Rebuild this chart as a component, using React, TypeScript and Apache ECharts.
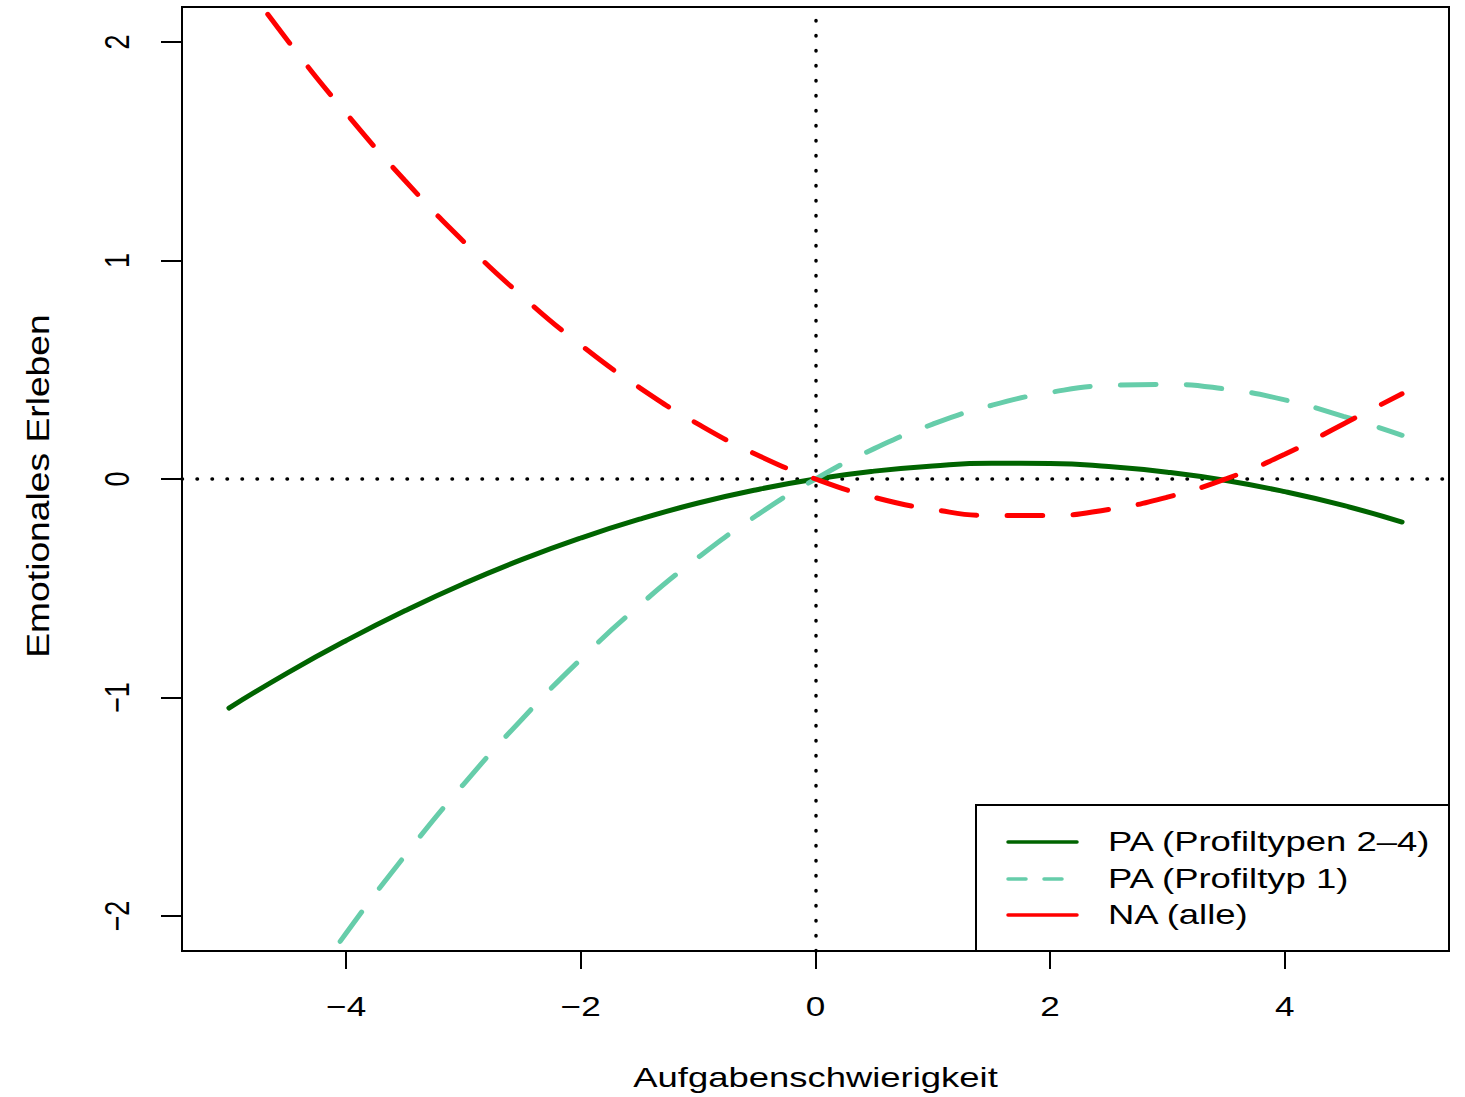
import React, { useEffect, useRef } from "react";
import * as echarts from "echarts";

const xValues = [-5, -4.5, -4, -3.5, -3, -2.5, -2, -1.5, -1, -0.5, 0, 0.5, 1, 1.5, 2, 2.5, 3, 3.5, 4, 4.5, 5];
const paProfil24 = [-1.048, -0.887, -0.739, -0.603, -0.479, -0.368, -0.27, -0.184, -0.11, -0.049, 0, 0.036, 0.06, 0.072, 0.071, 0.057, 0.031, -0.007, -0.058, -0.121, -0.197];
const paProfil1 = [-2.865, -2.458, -2.078, -1.724, -1.397, -1.098, -0.824, -0.578, -0.359, -0.166, 0, 0.139, 0.251, 0.337, 0.396, 0.428, 0.433, 0.411, 0.362, 0.287, 0.2];
const naAlle = [2.37, 2.007, 1.673, 1.366, 1.087, 0.836, 0.613, 0.418, 0.251, 0.111, 0, -0.084, -0.139, -0.167, -0.167, -0.139, -0.083, 0.001, 0.113, 0.252, 0.39];

const xTicks = [-4, -2, 0, 2, 4];
const yTicks = [-2, -1, 0, 1, 2];

const xTitle = "Aufgabenschwierigkeit";
const yTitle = "Emotionales Erleben";
const seriesNames = ["PA (Profiltypen 2\u20134)", "PA (Profiltyp 1)", "NA (alle)"];
const seriesColors = ["#006400", "#66CDAA", "#FF0000"];

const FONT = "'Liberation Sans', Arial, Helvetica, sans-serif";

const fmt = (v: number) => String(v).replace("-", "\u2212");

export default function App() {
  const ref = useRef<HTMLDivElement>(null);

  useEffect(() => {
    if (!ref.current) return;
    const chart = echarts.init(ref.current, undefined, { renderer: "svg" });
    const zip = (ys: number[]) => xValues.map((x, i) => [x, ys[i]]);

    chart.setOption({
      animation: false,
      backgroundColor: "#fff",
      grid: {
        left: 182,
        right: 16,
        top: 7,
        bottom: 146,
        show: true,
        borderColor: "#000",
        borderWidth: 2,
        backgroundColor: "transparent",
      },
      xAxis: {
        type: "value",
        min: -5.4,
        max: 5.4,
        axisLine: { show: false, onZero: false },
        splitLine: { show: false },
        axisTick: {
          show: true,
          length: 18,
          lineStyle: { color: "#000", width: 2 },
          customValues: xTicks,
        },
        axisLabel: { show: false },
      },
      yAxis: {
        type: "value",
        min: -2.16,
        max: 2.16,
        axisLine: { show: false, onZero: false },
        splitLine: { show: false },
        axisTick: {
          show: true,
          length: 21,
          lineStyle: { color: "#000", width: 2 },
          customValues: yTicks,
        },
        axisLabel: { show: false },
      },
      series: [
        {
          type: "line",
          name: seriesNames[0],
          data: zip(paProfil24),
          smooth: true,
          showSymbol: false,
          symbol: "none",
          lineStyle: { color: seriesColors[0], width: 5, cap: "round" },
          z: 3,
          markLine: {
            silent: true,
            symbol: "none",
            label: { show: false },
            lineStyle: { color: "#000", width: 3.5, type: [0.5, 14.5], cap: "round" },
            data: [{ xAxis: 0 }, { yAxis: 0 }],
            z: 2,
          },
        },
        {
          type: "line",
          name: seriesNames[1],
          data: zip(paProfil1),
          smooth: true,
          showSymbol: false,
          symbol: "none",
          lineStyle: { color: seriesColors[1], width: 5, type: [36, 30], cap: "round" },
          z: 4,
        },
        {
          type: "line",
          name: seriesNames[2],
          data: zip(naAlle),
          smooth: true,
          showSymbol: false,
          symbol: "none",
          lineStyle: { color: seriesColors[2], width: 5, type: [36, 30], cap: "round" },
          z: 5,
        },
      ],
    });

    const g: any[] = [];
    const textStyle = (text: string, size: number) => ({
      text,
      font: `${size}px ${FONT}`,
      fill: "#000",
      align: "center",
      verticalAlign: "middle",
    });

    // x tick labels
    xTicks.forEach((v) => {
      const p = chart.convertToPixel({ gridIndex: 0 }, [v, 0]) as number[];
      g.push({
        type: "text",
        x: p[0],
        y: 1007,
        scaleX: 1.3,
        style: textStyle(fmt(v), 27),
      });
    });
    // y tick labels (rotated)
    yTicks.forEach((v) => {
      const p = chart.convertToPixel({ gridIndex: 0 }, [0, v]) as number[];
      g.push({
        type: "text",
        x: 117,
        y: p[1],
        rotation: Math.PI / 2,
        scaleY: 1.3,
        style: textStyle(fmt(v), 27),
      });
    });
    // axis titles
    const cx = (chart.convertToPixel({ gridIndex: 0 }, [0, 0]) as number[])[0];
    g.push({
      type: "text",
      x: cx,
      y: 1078,
      scaleX: 1.35,
      style: textStyle(xTitle, 27),
    });
    g.push({
      type: "text",
      x: 38,
      y: 486,
      rotation: Math.PI / 2,
      scaleX: 1.33,
      scaleY: 1.12,
      style: textStyle(yTitle, 28),
    });

    // legend
    const legendRows = [842, 879, 915];
    g.push({
      type: "rect",
      shape: { x: 976, y: 805, width: 473, height: 146 },
      style: { fill: "#fff", stroke: "#000", lineWidth: 2 },
      z: 10,
    });
    seriesNames.forEach((name, i) => {
      g.push({
        type: "line",
        shape: { x1: 1008, y1: legendRows[i], x2: 1077, y2: legendRows[i] },
        style: {
          stroke: seriesColors[i],
          lineWidth: 3.5,
          lineDash: i === 1 ? [18, 18] : null,
          lineCap: "round",
        },
        z: 11,
      });
      g.push({
        type: "text",
        x: 1108,
        y: legendRows[i],
        scaleX: 1.35,
        style: {
          text: name,
          font: `27px ${FONT}`,
          fill: "#000",
          verticalAlign: "middle",
          align: "left",
        },
        z: 11,
      });
    });

    chart.setOption({ graphic: g });

    return () => chart.dispose();
  }, []);

  return (
    <div
      ref={ref}
      style={{ position: "absolute", left: 0, top: 0, width: 1465, height: 1097 }}
    />
  );
}
